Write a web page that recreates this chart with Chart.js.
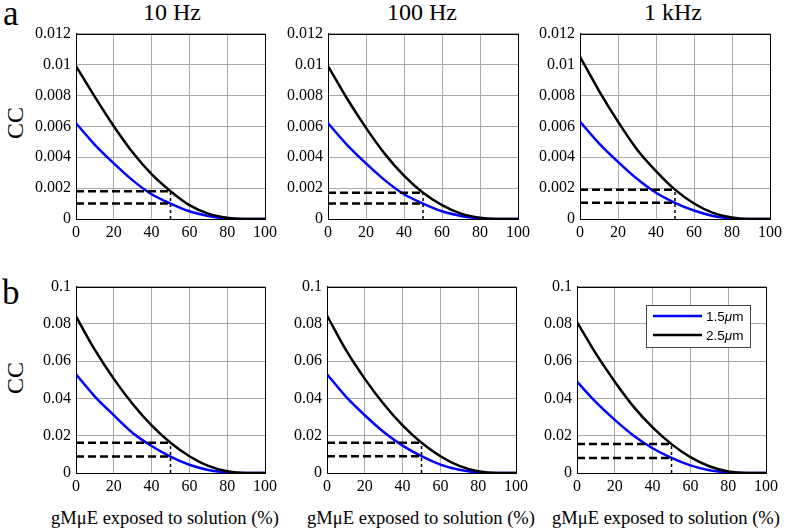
<!DOCTYPE html>
<html>
<head>
<meta charset="utf-8">
<script src="https://cdn.jsdelivr.net/npm/chart.js@4/dist/chart.umd.min.js"></script>
<style>
    body { margin: 0; background: #fff; width: 787px; height: 528px; position: relative; overflow: hidden; font-family: "Liberation Serif", "DejaVu Serif", "Times New Roman", Times, serif; }
    .panel { position: absolute; }
    .txt { position: absolute; color: #000; white-space: nowrap; }
    .letter { font-size: 35px; line-height: 35px; }
    .title { font-size: 24px; line-height: 24px; width: 200px; text-align: center; }
    .ylab { font-size: 24px; line-height: 24px; transform: translate(-50%, -50%) rotate(-90deg); }
    .xlab { font-size: 18.5px; line-height: 18px; width: 300px; text-align: center; }
</style>
</head>
<body>
<div class="txt letter" style="left:3px; top:-4px;">a</div>
<div class="txt letter" style="left:2px; top:275px;">b</div>
<div class="txt ylab" style="left:15px; top:123px;">CC</div>
<div class="txt ylab" style="left:15px; top:378px;">CC</div>
<div class="txt title" style="left:72px; top:0px;">10 Hz</div>
<div class="txt title" style="left:322px; top:0px;">100 Hz</div>
<div class="txt title" style="left:573px; top:0px;">1 kHz</div>
<div class="txt xlab" style="left:15px; top:509px;">gMμE exposed to solution (%)</div>
<div class="txt xlab" style="left:271px; top:509px;">gMμE exposed to solution (%)</div>
<div class="txt xlab" style="left:516px; top:509px;">gMμE exposed to solution (%)</div>

<script>
// data
const xValues = [0, 10, 20, 30, 40, 50, 60, 70, 80, 90, 100];
const xTickLabels = ['0', '20', '40', '60', '80', '100'];
const topTickLabels = ['0', '0.002', '0.004', '0.006', '0.008', '0.01', '0.012'];
const bottomTickLabels = ['0', '0.02', '0.04', '0.06', '0.08', '0.1'];
const seriesNames = ['1.5\u03bcm', '2.5\u03bcm'];

const blueTop10 = [0.0062, 0.0048, 0.0036, 0.0025, 0.0016, 0.0010, 0.0005, 0.0002, 0.00003, 0, 0];
const blackTop10 = [0.0099, 0.0079, 0.0060, 0.0043, 0.0029, 0.0018, 0.0009, 0.00035, 0.00008, 0, 0];
const blueTop100 = [0.0062, 0.0048, 0.0036, 0.0025, 0.0016, 0.0010, 0.0005, 0.0002, 0.00003, 0, 0];
const blackTop100 = [0.0099, 0.0078, 0.0059, 0.0042, 0.0028, 0.0017, 0.0009, 0.00035, 0.00008, 0, 0];
const blueTop1k = [0.0063, 0.0049, 0.0037, 0.0026, 0.0017, 0.00105, 0.00055, 0.0002, 0.00004, 0, 0];
const blackTop1k = [0.0105, 0.0083, 0.0063, 0.0045, 0.0031, 0.0019, 0.0010, 0.0004, 0.0001, 0, 0];

const blueBot10 = [0.053, 0.041, 0.031, 0.0215, 0.0145, 0.0088, 0.0044, 0.0016, 0.0003, 0, 0];
const blackBot10 = [0.084, 0.066, 0.0505, 0.037, 0.0255, 0.0162, 0.009, 0.0038, 0.0009, 0, 0];
const blueBot100 = [0.053, 0.041, 0.031, 0.022, 0.0147, 0.009, 0.0045, 0.0017, 0.0003, 0, 0];
const blackBot100 = [0.0845, 0.066, 0.0505, 0.037, 0.0255, 0.0162, 0.009, 0.0038, 0.0009, 0, 0];
const blueBot1k = [0.049, 0.038, 0.0285, 0.020, 0.0133, 0.0081, 0.0041, 0.0015, 0.0003, 0, 0];
const blackBot1k = [0.081, 0.064, 0.049, 0.0355, 0.0245, 0.0155, 0.0085, 0.0036, 0.0008, 0, 0];

// dashed marker levels [black, blue] at x = markerX
const markerX = 50;
const dashTop = [[0.0018, 0.0010], [0.0017, 0.0010], [0.0019, 0.00105]];
const dashBottom = [[0.0162, 0.0088], [0.0162, 0.009], [0.0155, 0.0081]];

// plot-area boxes in page pixels: left, top, right, bottom
const panels = [
    { box: [76, 31, 265, 219], blue: blueTop10, black: blackTop10, dash: dashTop[0], max: 0.012, step: 0.002, ticks: topTickLabels },
    { box: [328, 31, 518, 219], blue: blueTop100, black: blackTop100, dash: dashTop[1], max: 0.012, step: 0.002, ticks: topTickLabels },
    { box: [580, 31, 770, 219], blue: blueTop1k, black: blackTop1k, dash: dashTop[2], max: 0.012, step: 0.002, ticks: topTickLabels },
    { box: [76, 284, 265, 473], blue: blueBot10, black: blackBot10, dash: dashBottom[0], max: 0.1, step: 0.02, ticks: bottomTickLabels },
    { box: [327, 284, 516, 473], blue: blueBot100, black: blackBot100, dash: dashBottom[1], max: 0.1, step: 0.02, ticks: bottomTickLabels },
    { box: [577, 284, 766, 473], blue: blueBot1k, black: blackBot1k, dash: dashBottom[2], max: 0.1, step: 0.02, ticks: bottomTickLabels, legend: true }
];

const Y_AXIS_W = 62, PAD_TOP = 12, PAD_RIGHT = 16, X_AXIS_H = 28;
const serif = '"Liberation Serif", "DejaVu Serif", "Times New Roman", Times, serif';

const toPoints = vals => vals.map((v, i) => ({ x: xValues[i], y: v }));

// black frame round the plot area
const framePlugin = {
    id: 'frame',
    beforeDatasetsDraw(chart) {
        const a = chart.chartArea, ctx = chart.ctx;
        ctx.save();
        ctx.strokeStyle = '#000';
        ctx.lineWidth = 1;
        ctx.strokeRect(Math.round(a.left) + 0.5, Math.round(a.top) + 0.5, Math.round(a.right - a.left), Math.round(a.bottom - a.top));
        ctx.restore();
    }
};

// boxed legend like the matlab one
const boxLegendPlugin = {
    id: 'boxLegend',
    afterDatasetsDraw(chart, args, opts) {
        if (!opts.show) return;
        const a = chart.chartArea, ctx = chart.ctx;
        const x = Math.round(a.left) + 69, y = Math.round(a.top) + 18;
        ctx.save();
        ctx.fillStyle = '#fff';
        ctx.fillRect(x, y, 104, 42);
        ctx.strokeStyle = '#444';
        ctx.lineWidth = 1;
        ctx.strokeRect(x + 0.5, y + 0.5, 104, 42);
        const colors = ['#0000ff', '#000000'];
        seriesNames.forEach((name, i) => {
            const ly = y + 11 + i * 19;
            ctx.strokeStyle = colors[i];
            ctx.lineWidth = 2.5;
            ctx.beginPath();
            ctx.moveTo(x + 7, ly);
            ctx.lineTo(x + 56, ly);
            ctx.stroke();
            // "1.5" + italic mu + "m"
            ctx.fillStyle = '#000';
            ctx.textBaseline = 'middle';
            let tx = x + 60;
            const parts = [[name.slice(0, 3), '13.5px "Liberation Sans", Arial, sans-serif'],
                           [name.slice(3, 4), 'italic 13.5px "Liberation Sans", Arial, sans-serif'],
                           [name.slice(4), '13.5px "Liberation Sans", Arial, sans-serif']];
            parts.forEach(([t, f]) => {
                ctx.font = f;
                ctx.fillText(t, tx, ly + 1);
                tx += ctx.measureText(t).width;
            });
        });
        ctx.restore();
    }
};

panels.forEach(p => {
    const [L, T, R, B] = p.box;
    const wrap = document.createElement('div');
    wrap.className = 'panel';
    wrap.style.left = (L - Y_AXIS_W) + 'px';
    wrap.style.top = (T - PAD_TOP) + 'px';
    wrap.style.width = (R - L + Y_AXIS_W + PAD_RIGHT) + 'px';
    wrap.style.height = (B - T + PAD_TOP + X_AXIS_H) + 'px';
    const canvas = document.createElement('canvas');
    wrap.appendChild(canvas);
    document.body.appendChild(wrap);

    const [hiDash, loDash] = p.dash;
    new Chart(canvas, {
        type: 'line',
        data: {
            datasets: [
                { data: [{ x: 0, y: hiDash }, { x: markerX, y: hiDash }], borderColor: '#000', borderWidth: 2.5, borderDash: [8, 4] },
                { data: [{ x: 0, y: loDash }, { x: markerX, y: loDash }], borderColor: '#000', borderWidth: 2.5, borderDash: [8, 4] },
                { data: [{ x: markerX, y: 0 }, { x: markerX, y: hiDash }], borderColor: '#000', borderWidth: 1.5, borderDash: [3, 3] },
                { label: seriesNames[1], data: toPoints(p.black), borderColor: '#000000', borderWidth: 2.5, cubicInterpolationMode: 'monotone' },
                { label: seriesNames[0], data: toPoints(p.blue), borderColor: '#0000ff', borderWidth: 2.5, cubicInterpolationMode: 'monotone' }
            ]
        },
        options: {
            responsive: true,
            maintainAspectRatio: false,
            animation: false,
            layout: { padding: { top: PAD_TOP, right: PAD_RIGHT, left: 0, bottom: 0 } },
            elements: { point: { radius: 0 } },
            plugins: {
                legend: { display: false },
                tooltip: { enabled: false },
                boxLegend: { show: !!p.legend }
            },
            scales: {
                x: {
                    type: 'linear', min: 0, max: 100,
                    ticks: { stepSize: 20, color: '#000', font: { family: serif, size: 16 }, padding: 4, maxRotation: 0,
                             callback: (v, i) => xTickLabels[i] },
                    grid: { color: '#a8a8a8', lineWidth: 1, drawTicks: false },
                    border: { color: '#000' },
                    afterFit: s => { s.height = X_AXIS_H; }
                },
                y: {
                    min: 0, max: p.max,
                    ticks: { stepSize: p.step, color: '#000', font: { family: serif, size: 16 }, padding: 5,
                             callback: (v, i) => p.ticks[i] },
                    grid: { color: '#a8a8a8', lineWidth: 1, drawTicks: false },
                    border: { color: '#000' },
                    afterFit: s => { s.width = Y_AXIS_W; }
                }
            }
        },
        plugins: [framePlugin, boxLegendPlugin]
    });
});
</script>
</body>
</html>
